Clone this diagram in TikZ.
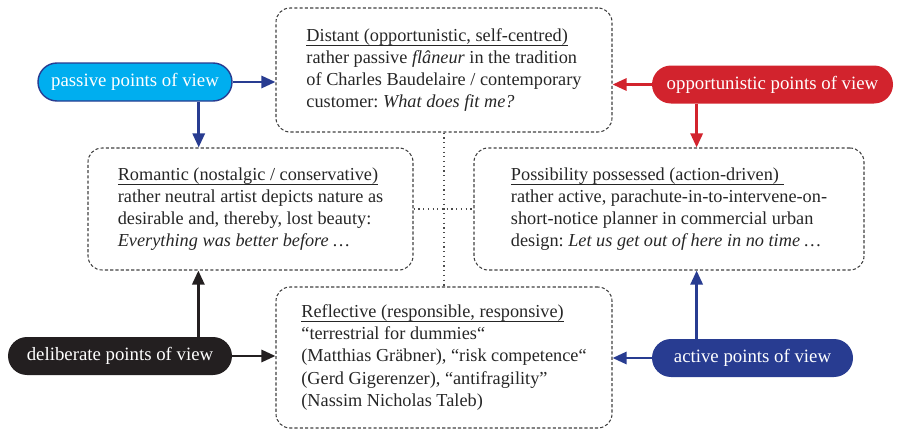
\documentclass[tikz,border=0pt]{standalone}
\usepackage{fontspec}
\setmainfont{Liberation Serif}
\usepackage{tikz}
\usetikzlibrary{positioning, arrows.meta, calc}
\frenchspacing

% underlined heading of a view, line set a little below the text
\newcommand{\viewhead}[1]{\setbox0\hbox{#1}\leavevmode\rlap{\rule[-2.6pt]{\wd0}{0.45pt}}\box0}

\begin{document}
\begin{tikzpicture}[
    view/.style={draw=black!75, dash pattern=on 1.8pt off 1.2pt, line width=0.6pt,
                 rounded corners=8pt, inner xsep=0.3cm, align=left, text=black!85,
                 font=\fontsize{10.4}{12.6}\selectfont},
    pov/.style={rectangle, rounded corners=0.38cm, minimum height=0.76cm, inner sep=0pt,
                text=white, font=\fontsize{10.7}{12}\selectfont},
    link/.style={-{Triangle[length=0.28cm, width=0.24cm]}, line width=1.6pt},
    weak/.style={draw=black!70, dotted, line width=0.7pt},
]

% Color definitions
\definecolor{passC}{RGB}{0,174,239}
\definecolor{blueC}{RGB}{40,60,145}
\definecolor{redC}{RGB}{210,35,45}
\definecolor{darkC}{RGB}{35,31,32}

\useasboundingbox (0,0) rectangle (17.94,-8.60);

% Four views
\node[view, minimum width=6.72cm, minimum height=2.48cm] (distant) at (8.88,-1.40)
  {\viewhead{Distant (opportunistic, self-centred)}\\
   rather passive \textit{flâneur} in the tradition\\
   of Charles Baudelaire / contemporary\\
   customer: \textit{What does fit me?}};
\node[view, minimum width=6.50cm, minimum height=2.44cm] (romantic) at (5.01,-4.18)
  {\viewhead{Romantic (nostalgic / conservative)}\\
   rather neutral artist depicts nature as\\
   desirable and, thereby, lost beauty:\\
   \textit{Everything was better before \ldots}};
\node[view, minimum width=7.80cm, minimum height=2.44cm] (possib) at (13.38,-4.18)
  {\viewhead{Possibility possessed (action-driven)\ }\\
   rather active, parachute-in-to-intervene-on-\\
   short-notice planner in commercial urban\\
   design: \textit{Let us get out of here in no time \ldots}};
\node[view, minimum width=6.72cm, minimum height=2.82cm] (reflect) at (8.88,-7.15)
  {\viewhead{Reflective (responsible, responsive)}\\
   “terrestrial for dummies“\\
   (Matthias Gräbner), “risk competence“\\
   (Gerd Gigerenzer), “antifragility”\\
   (Nassim Nicholas Taleb)};

% Dotted cross between the views
\draw[weak] (distant.south) -- (reflect.north);
\draw[weak] (romantic.east) -- (possib.west);

% Points of view
\node[pov, fill=passC, draw=blueC, line width=0.8pt, minimum width=3.88cm] (passive) at (2.70,-1.64)
  {passive points of view};
\node[pov, fill=redC, minimum width=4.82cm] (opport) at (15.45,-1.69)
  {opportunistic points of view};
\node[pov, fill=darkC, minimum width=4.48cm] (delib) at (2.40,-7.12)
  {deliberate points of view};
\node[pov, fill=blueC, minimum width=4.02cm] (active) at (15.05,-7.16)
  {active points of view};

% Arrows
\coordinate (pasFoot) at ([xshift=-0.68cm]passive.south east);
\coordinate (oppFoot) at ([xshift=0.9cm]opport.south west);
\coordinate (delHead) at ([xshift=-0.68cm]delib.north east);
\coordinate (actHead) at ([xshift=0.9cm]active.north west);

\draw[link, blueC] (passive.east) -- (passive.east -| distant.west);
\draw[link, blueC] (pasFoot) -- (pasFoot |- romantic.north);
\draw[link, redC] (opport.west) -- (opport.west -| distant.east);
\draw[link, redC] (oppFoot) -- (oppFoot |- possib.north);
\draw[link, darkC] (delHead) -- (delHead |- romantic.south);
\draw[link, darkC] (delib.east) -- (delib.east -| reflect.west);
\draw[link, blueC] (actHead) -- (actHead |- possib.south);
\draw[link, blueC] (active.west) -- (active.west -| reflect.east);

\end{tikzpicture}
\end{document}
